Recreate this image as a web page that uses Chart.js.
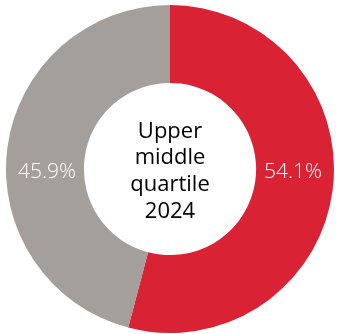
<!DOCTYPE html>
<html>
<head>
<meta charset="utf-8">
<script src="https://cdn.jsdelivr.net/npm/chart.js@4/dist/chart.umd.min.js"></script>
<style>
  html, body { margin: 0; padding: 0; background: #ffffff; }
  #wrap { width: 338px; height: 334px; position: relative; }
</style>
</head>
<body>
<div id="wrap"><canvas id="chart"></canvas></div>
<script>
// Share of the upper middle pay quartile, 2024
const categories = ['Women', 'Men'];
const shares = [54.1, 45.9];
const sliceColors = ['#d92234', '#a49f9b'];
const centerLines = ['Upper', 'middle', 'quartile', '2024'];

// Percentage labels sit in the ring, level with the centre (right slice first, then left)
const ringLabels = {
  id: 'ringLabels',
  afterDatasetsDraw(chart) {
    const meta = chart.getDatasetMeta(0);
    const ctx = chart.ctx;
    ctx.save();
    ctx.fillStyle = '#ffffff';
    ctx.font = '300 21px "Open Sans", sans-serif';
    ctx.textAlign = 'center';
    ctx.textBaseline = 'alphabetic';
    meta.data.forEach((arc, i) => {
      const p = arc.getProps(['x', 'y', 'innerRadius', 'outerRadius'], true);
      const mid = (p.innerRadius + p.outerRadius) / 2;
      const side = i === 0 ? 1 : -1;
      ctx.fillText(shares[i].toFixed(1) + '%', p.x + side * (mid - 2), p.y + 9);
    });
    ctx.restore();
  }
};

// Title text in the hole of the doughnut
const centerText = {
  id: 'centerText',
  afterDatasetsDraw(chart) {
    const arc = chart.getDatasetMeta(0).data[0];
    const p = arc.getProps(['x', 'y'], true);
    const ctx = chart.ctx;
    ctx.save();
    ctx.fillStyle = '#000000';
    ctx.font = '400 22px "Open Sans", sans-serif';
    ctx.textAlign = 'center';
    ctx.textBaseline = 'alphabetic';
    const lh = 26.8;
    centerLines.forEach((line, i) => {
      ctx.fillText(line, p.x, p.y + 8.8 + (i - (centerLines.length - 1) / 2) * lh);
    });
    ctx.restore();
  }
};

new Chart(document.getElementById('chart'), {
  type: 'doughnut',
  data: {
    labels: categories,
    datasets: [{
      data: shares,
      backgroundColor: sliceColors,
      borderWidth: 0,
      hoverOffset: 0
    }]
  },
  options: {
    responsive: true,
    maintainAspectRatio: false,
    animation: false,
    cutout: '52.5%',
    rotation: 0,
    layout: { padding: { top: 5, bottom: 1, left: 6, right: 4 } },
    plugins: {
      legend: { display: false },
      tooltip: { enabled: false }
    }
  },
  plugins: [ringLabels, centerText]
});
</script>
</body>
</html>
